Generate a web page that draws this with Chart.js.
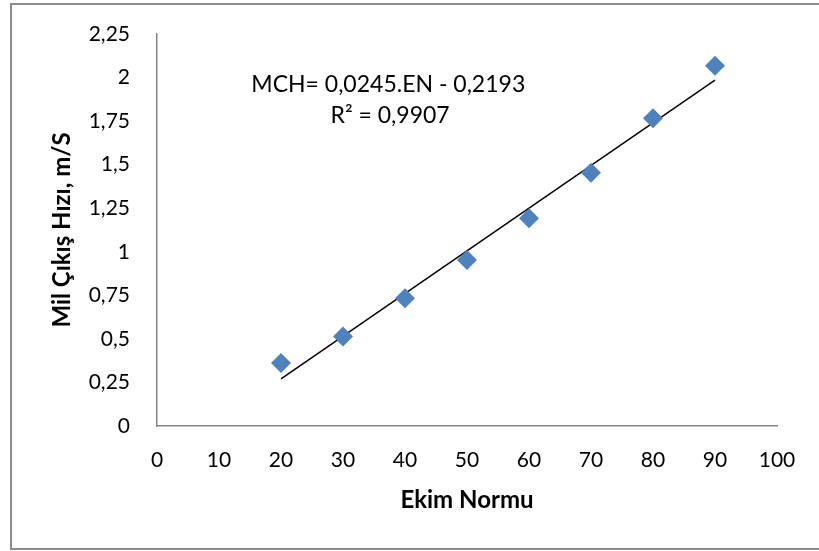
<!DOCTYPE html>
<html>
<head>
<meta charset="utf-8">
<script src="https://cdn.jsdelivr.net/npm/chart.js@4"></script>
<style>
  html, body { margin: 0; padding: 0; background: #fff; }
  #wrap { width: 819px; height: 551px; position: relative; }
</style>
</head>
<body>
<div id="wrap"><canvas id="chart"></canvas></div>
<script>
// data
var ekimNormu = [20, 30, 40, 50, 60, 70, 80, 90];
var milHizi = [0.362, 0.513, 0.733, 0.953, 1.192, 1.454, 1.766, 2.068];
var xTicks = [0, 10, 20, 30, 40, 50, 60, 70, 80, 90, 100];
var yTicks = [0, 0.25, 0.5, 0.75, 1, 1.25, 1.5, 1.75, 2, 2.25];
// trend line from the equation shown on the chart
var slope = 0.0245;
var intercept = -0.2193;
var eqLines = ["MCH= 0,0245.EN - 0,2193", "R\u00b2 = 0,9907"];

var trendX = [ekimNormu[0], ekimNormu[ekimNormu.length - 1]];
var trendPts = trendX.map(function (x) { return { x: x, y: slope * x + intercept }; });
var points = ekimNormu.map(function (x, i) { return { x: x, y: milHizi[i] }; });

var fontName = "Lato, 'DejaVu Sans', sans-serif";

function fmt(v) {
    return String(v).replace(".", ",");
}

// outer frame + equation text
var extras = {
    id: "extras",
    beforeDraw: function (chart) {
        var ctx = chart.ctx;
        ctx.save();
        ctx.fillStyle = "#fff";
        ctx.fillRect(0, 0, chart.width, chart.height);
        ctx.strokeStyle = "#8c8c8c";
        ctx.lineWidth = 2;
        ctx.beginPath();
        ctx.moveTo(chart.width, 4);
        ctx.lineTo(11, 4);
        ctx.lineTo(11, 549);
        ctx.lineTo(chart.width, 549);
        ctx.stroke();
        ctx.restore();
    },
    afterDraw: function (chart) {
        var ctx = chart.ctx;
        var xs = chart.scales.x, ys = chart.scales.y;
        ctx.save();
        ctx.fillStyle = "#000";
        ctx.font = "23px " + fontName;
        ctx.textAlign = "center";
        ctx.textBaseline = "middle";
        ctx.fillText(eqLines[0], xs.getPixelForValue(37.3), ys.getPixelForValue(1.96));
        ctx.fillText(eqLines[1], xs.getPixelForValue(37.6), ys.getPixelForValue(1.78));
        ctx.restore();
    }
};

var ctx = document.getElementById("chart").getContext("2d");
var chart = new Chart(ctx, {
    type: "scatter",
    data: {
        datasets: [{
            label: "Mil Çıkış Hızı",
            data: points,
            pointStyle: "rectRot",
            pointRadius: 10,
            pointBorderWidth: 0,
            backgroundColor: "#4f81bd",
            borderColor: "#4f81bd",
            order: 1
        }, {
            label: "trend",
            type: "line",
            data: trendPts,
            borderColor: "#000",
            borderWidth: 1.5,
            pointRadius: 0,
            fill: false,
            order: 2
        }]
    },
    options: {
        responsive: true,
        maintainAspectRatio: false,
        animation: false,
        layout: { padding: { left: 0, top: 34, right: 42, bottom: 0 } },
        plugins: {
            legend: { display: false },
            tooltip: { enabled: false }
        },
        scales: {
            x: {
                type: "linear",
                min: 0,
                max: 100,
                afterBuildTicks: function (s) { s.ticks = xTicks.map(function (v) { return { value: v }; }); },
                afterFit: function (s) { s.height = 125; s.paddingLeft = 0; s.paddingRight = 0; },
                grid: { display: false, drawTicks: false },
                border: { display: true, color: "#868686", width: 1.5 },
                ticks: {
                    color: "#000",
                    padding: 22,
                    maxRotation: 0,
                    font: { family: fontName, size: 21 },
                    callback: function (v) { return fmt(v); }
                },
                title: {
                    display: true,
                    text: "Ekim Normu",
                    color: "#000",
                    font: { family: fontName, size: 24, weight: "bold" },
                    padding: { top: 0, bottom: 36 }
                }
            },
            y: {
                type: "linear",
                min: 0,
                max: 2.25,
                afterBuildTicks: function (s) { s.ticks = yTicks.map(function (v) { return { value: v }; }); },
                afterFit: function (s) { s.width = 157; s.paddingTop = 0; s.paddingBottom = 0; },
                grid: { display: false, drawTicks: false },
                border: { display: true, color: "#868686", width: 1.5 },
                ticks: {
                    color: "#000",
                    padding: 27,
                    font: { family: fontName, size: 21 },
                    callback: function (v) { return fmt(v); }
                },
                title: {
                    display: true,
                    text: "Mil Çıkış Hızı, m/S",
                    color: "#000",
                    font: { family: fontName, size: 24, weight: "bold" },
                    padding: { top: 48, bottom: 0 }
                }
            }
        }
    },
    plugins: [extras]
});
</script>
</body>
</html>
